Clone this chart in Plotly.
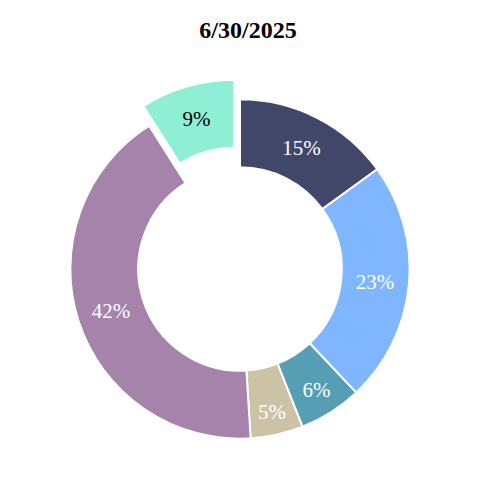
import plotly.graph_objects as go

labels = ["A", "B", "C", "D", "E", "F"]
values = [15, 23, 6, 5, 42, 9]
colors = ["#414769", "#80B5FF", "#559EB4", "#CCC3A6", "#A583AB", "#8EEFD5"]
text_colors = ["white", "white", "white", "white", "white", "black"]
pulls = [0, 0, 0, 0, 0, 0.12]

fig = go.Figure(go.Pie(
    labels=labels, values=values, hole=0.6, sort=False, direction="clockwise",
    rotation=0, pull=pulls, textinfo="percent", texttemplate="%{percent:.0%}",
    marker=dict(colors=colors, line=dict(color="white", width=2)),
    textfont=dict(family="Liberation Serif", size=21, color=text_colors),
    insidetextorientation="horizontal", showlegend=False,
))
fig.update_layout(
    width=480, height=480,
    title=dict(text="<b>6/30/2025</b>", x=0.5, xanchor="center", y=0.955, yanchor="middle",
               font=dict(family="Liberation Serif", size=24, color="black")),
    margin=dict(t=71, b=29, l=32, r=48),
    paper_bgcolor="white", plot_bgcolor="white",
    font=dict(family="Liberation Serif"),
)
fig.write_html("out.html")
